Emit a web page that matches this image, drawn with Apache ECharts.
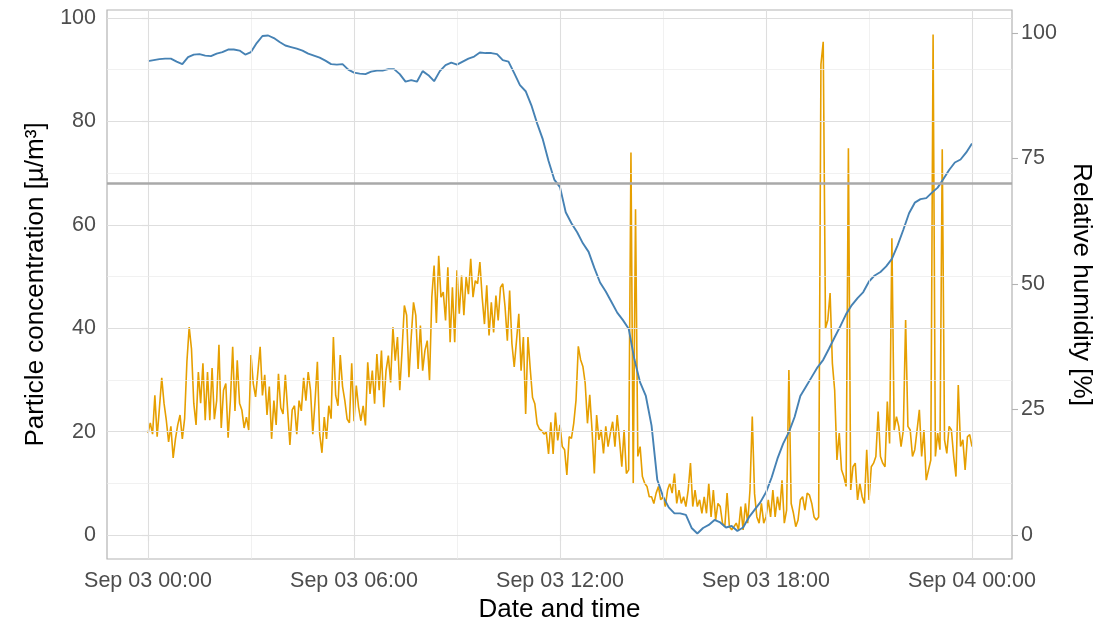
<!DOCTYPE html>
<html>
<head>
<meta charset="utf-8">
<script src="https://cdn.jsdelivr.net/npm/echarts@6/dist/echarts.min.js"></script>
<style>
html,body{margin:0;padding:0;background:#fff;}
#chart{width:1117px;height:623px;}
</style>
</head>
<body>
<div id="chart"></div>
<script>
// time axis: hours since Sep 03 00:00
const xTickValues = [0, 6, 12, 18, 24];
const xTickLabels = ['Sep 03 00:00', 'Sep 03 06:00', 'Sep 03 12:00', 'Sep 03 18:00', 'Sep 04 00:00'];
const yLeftTicks = [0, 20, 40, 60, 80, 100];
const yRightTicks = [0, 25, 50, 75, 100];
const humidityThreshold = 70;

// particle concentration, one reading every 4 minutes from 00:00 to 24:00
const particleStepMinutes = 4;
const particle = [
  19.7,21.7,19.5,27,19,24.6,30.4,25.5,22.2,18,
  21,14.9,18.6,21.3,23.2,18.6,22.5,33.5,40.2,36,
  25.5,21.3,31.5,25.5,33.2,22.2,31.5,22.2,32.3,22.4,
  26,36.8,20.7,28,29.3,18.8,26,36.4,24,33.8,
  25.5,24.2,20.7,22.8,20.3,34.8,29.3,26.7,31.5,36.4,
  27,31,23.2,28.7,18.6,26,21.3,31.2,24.6,23.4,
  31,24.2,17.4,24.2,25,19.5,26,24,30.4,26,
  31.5,28,19.5,26,33.5,19.5,15.9,22.8,18.6,25,
  22.5,38.3,27,25,34.8,28.7,26,22.4,21.7,33.2,
  22,28.9,24.7,22.1,25,21.2,33.4,27.3,31.8,25.4,
  35,28,35.7,24.7,31.8,34.7,29.5,40.2,33.7,38.3,
  28,35.7,44.4,42.5,30.5,38.3,45,42.5,32.1,40.5,
  31.8,35.7,37.6,29.9,46,52.1,41,54,46,47,
  41.5,51.8,37.3,47.9,37.3,51.2,42.8,50.2,42.5,49.9,
  46.6,53.4,46,49.2,48.6,52.8,46,40.8,48.3,38.6,
  45,39.2,46.3,41.5,47.9,48.6,44.1,37.6,47.3,37,
  32.5,37.6,42.8,31.8,38.3,23.4,38.3,32.1,26.6,25.4,
  21.5,20.5,20.2,19.5,19.9,15.7,21.8,15.7,23.7,18.3,
  21.3,17.1,16.5,11.6,19,18.7,21.6,26.1,36.5,33.9,
  32.6,29.4,21.6,27.1,20.3,11.9,23.2,18.4,20.3,15.8,
  21,17.1,19.7,21.9,17.1,23.2,18.4,13.2,20.3,11.9,
  12.6,74,10,63,15.2,17.1,11.3,10,9.4,7.4,
  7.4,6.1,8.1,9.4,6.8,7.4,5.5,8.7,10,8.1,
  11.9,6.1,8.7,6.1,7.4,5.5,8.7,13.9,5.5,8.7,
  5.5,6.8,4.2,7.4,4.2,10,3.5,8.7,2.9,6.1,
  5.5,2.3,1.6,8.1,1.6,1,1.6,2.3,1,5.5,
  1,6.1,2.3,8.7,22.9,8,3.5,2.3,6.1,2.3,
  3.5,6.8,3.5,8.7,3.5,7.4,4.8,
  10.6,2.3,4.8,31.9,6.1,4.2,1.6,2.9,6.8,7.4,
  4.8,8.1,7.7,6.1,3.5,2.9,3.5,91,95.4,40,
  41.6,46.8,33.2,28,14.5,19.7,12.6,11.3,9.4,74.8,
  8.7,13.2,13.9,6.8,10,7.4,6.1,16.5,6.8,13.2,
  13.9,15.2,23.9,15.2,13.9,13.2,25.8,17.7,57.4,20.3,
  22.9,21,17.1,20.3,41.6,21,20.3,15.2,16.5,20.3,
  24.2,15.2,20.3,10.6,12.6,14.5,96.8,15.2,19.7,16.5,
  74.6,18.4,15.8,21,20.3,15.2,11.3,29,17.1,18.4,
  12.6,19,19.4,17.1
];

// relative humidity, one reading every 10 minutes from 00:00 to 24:00
const humidityStepMinutes = 10;
const humidity = [
  94.4,94.6,94.8,94.9,94.9,94.3,93.8,95.2,95.7,95.8,
  95.5,95.4,95.9,96.2,96.7,96.7,96.5,95.7,96.2,98,
  99.4,99.5,99,98.2,97.5,97.2,96.9,96.5,95.9,95.5,
  95.1,94.5,93.8,93.7,93.8,92.7,92.1,91.9,91.8,92.3,
  92.5,92.5,92.8,92.8,91.8,90.3,90.6,90.3,92.4,91.6,
  90.4,92.4,93.6,94.1,93.7,94.3,94.9,95.3,96.1,96,
  96,95.8,94.6,94.3,92,89.6,88.4,85.6,82,78.8,
  74.5,70.8,69.3,64.3,62.1,60.3,58.1,56.4,53.2,50.3,
  48.5,46.4,44.3,42.8,41.1,35,30.4,27.7,21.8,11,
  7.7,5.5,4.3,4.3,4,1.4,0.3,1.4,2,3,
  2.5,1.5,1.8,0.8,1.5,3.5,5,6.5,8.5,11.5,
  15.2,18.2,20.5,23.5,27.7,29.6,31.5,33.4,34.9,37.1,
  39.4,41.6,44,45.8,47.2,48.4,50.5,51.7,52.4,53.5,
  55,57.7,60.8,64.1,66.2,66.9,67.1,68.2,69.2,70.9,
  72.7,74.2,74.8,76.2,78
];

const particleData = particle.map((v, i) => [i * particleStepMinutes / 60, v]);
const humidityData = humidity.map((v, i) => [i * humidityStepMinutes / 60, v]);

const gridMajor = { color: '#dedede', width: 1.1, type: 'solid' };
const gridMinor = { color: '#ebebeb', width: 0.7, type: 'solid' };
const gridLines = [];
for (let h = 0; h <= 24; h += 3) {
  gridLines.push({ xAxis: h, lineStyle: (h % 6 === 0) ? gridMajor : gridMinor });
}
for (let p = 0; p <= 100; p += 10) {
  gridLines.push({ yAxis: p, lineStyle: (p % 20 === 0) ? gridMajor : gridMinor });
}

const chart = echarts.init(document.getElementById('chart'), null, { renderer: 'canvas' });
const tickColor = '#b3b3b3';
const labelColor = '#4d4d4d';
const fontFam = '"Liberation Sans", Arial, sans-serif';

chart.setOption({
  animation: false,
  backgroundColor: '#ffffff',
  grid: {
    left: 107, right: 105, top: 10, bottom: 64,
    containLabel: false, outerBoundsMode: 'none',
    show: true, borderColor: '#b3b3b3', borderWidth: 1.2, backgroundColor: 'transparent'
  },
  xAxis: {
    type: 'value', min: -1.194, max: 25.165,
    name: 'Date and time', nameLocation: 'middle', nameGap: 36,
    nameTextStyle: { fontSize: 26, color: '#000', fontFamily: fontFam },
    axisLine: { show: false },
    axisTick: { show: true, customValues: xTickValues, length: 6, lineStyle: { color: tickColor, width: 1.1 } },
    axisLabel: {
      customValues: xTickValues, fontSize: 21.5, color: labelColor, fontFamily: fontFam, margin: 11,
      formatter: v => xTickLabels[xTickValues.indexOf(v)] || ''
    },
    splitLine: { show: false }
  },
  yAxis: [
    {
      type: 'value', min: -4.642, max: 101.547, position: 'left',
      name: 'Particle concentration [µ/m³]', nameLocation: 'middle', nameGap: 58,
      nameTextStyle: { fontSize: 26, color: '#000', fontFamily: fontFam },
      axisLine: { show: false },
      axisTick: { show: true, customValues: yLeftTicks, length: 6, lineStyle: { color: tickColor, width: 1.1 } },
      axisLabel: { customValues: yLeftTicks, fontSize: 21.5, color: labelColor, fontFamily: fontFam, margin: 11 },
      splitLine: { show: false }
    },
    {
      type: 'value', min: -4.78, max: 104.58, position: 'right',
      name: 'Relative humidity [%]', nameLocation: 'middle', nameGap: 50, nameRotate: -90,
      nameTextStyle: { fontSize: 26, color: '#000', fontFamily: fontFam },
      axisLine: { show: false },
      axisTick: { show: true, customValues: yRightTicks, length: 6, lineStyle: { color: tickColor, width: 1.1 } },
      axisLabel: { customValues: yRightTicks, fontSize: 21.5, color: labelColor, fontFamily: fontFam, margin: 9 },
      splitLine: { show: false }
    }
  ],
  series: [
    {
      name: 'grid', type: 'line', data: [], xAxisIndex: 0, yAxisIndex: 0, z: 1, silent: true,
      markLine: { silent: true, symbol: ['none', 'none'], label: { show: false }, animation: false, data: gridLines }
    },
    {
      name: 'threshold', type: 'line', data: [], xAxisIndex: 0, yAxisIndex: 1, z: 2, silent: true,
      markLine: {
        silent: true, symbol: ['none', 'none'], label: { show: false }, animation: false,
        lineStyle: { color: '#a9a9a9', width: 2.6, type: 'solid' },
        data: [{ yAxis: humidityThreshold }]
      }
    },
    {
      name: 'Particle concentration', type: 'line', data: particleData, xAxisIndex: 0, yAxisIndex: 0,
      showSymbol: false, symbol: 'none', z: 3,
      lineStyle: { color: '#E69F00', width: 1.6 }
    },
    {
      name: 'Relative humidity', type: 'line', data: humidityData, xAxisIndex: 0, yAxisIndex: 1,
      showSymbol: false, symbol: 'none', z: 4,
      lineStyle: { color: '#4682B4', width: 1.9 }
    }
  ]
});
</script>
</body>
</html>
